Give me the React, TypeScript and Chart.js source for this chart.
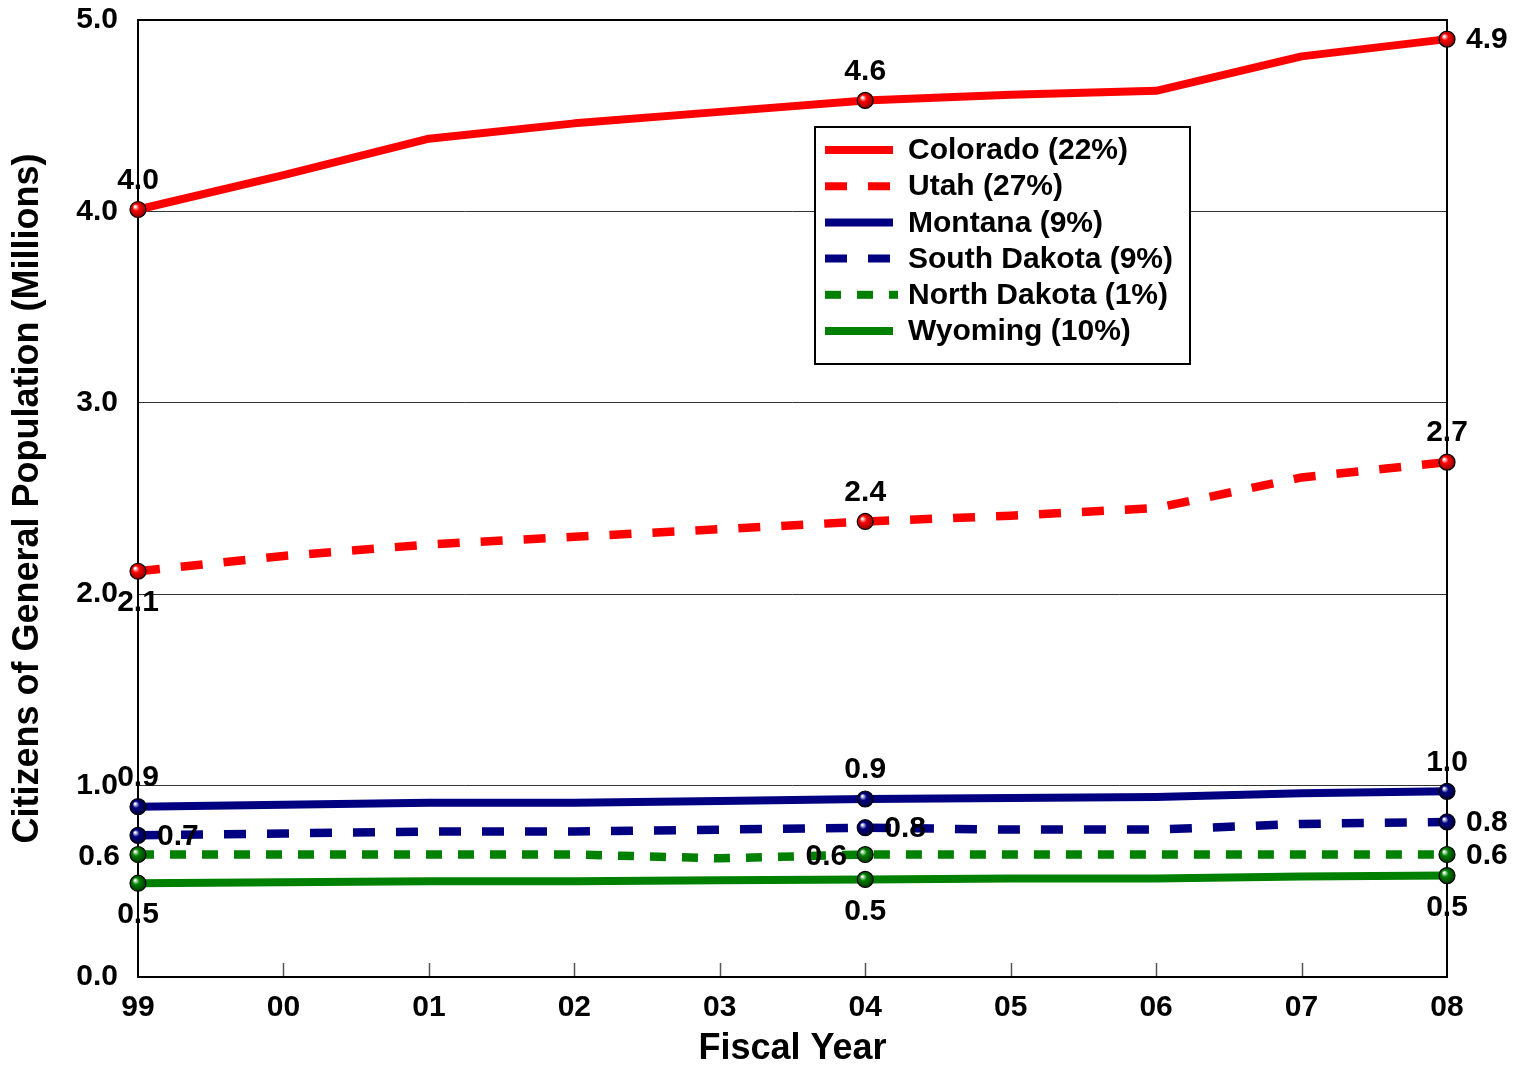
import React, { useEffect, useRef } from "react";
import { Chart, registerables } from "chart.js";

Chart.register(...registerables);

const years = ["99", "00", "01", "02", "03", "04", "05", "06", "07", "08"];
const colorado = [4.01, 4.19, 4.38, 4.46, 4.52, 4.58, 4.61, 4.63, 4.81, 4.9];
const utah = [2.12, 2.2, 2.26, 2.3, 2.34, 2.38, 2.41, 2.45, 2.61, 2.69];
const montana = [0.89, 0.9, 0.91, 0.91, 0.92, 0.93, 0.935, 0.94, 0.96, 0.97];
const southDakota = [0.74, 0.75, 0.76, 0.76, 0.77, 0.78, 0.77, 0.77, 0.8, 0.81];
const northDakota = [0.64, 0.64, 0.64, 0.64, 0.62, 0.64, 0.64, 0.64, 0.64, 0.64];
const wyoming = [0.49, 0.495, 0.5, 0.5, 0.505, 0.51, 0.515, 0.515, 0.525, 0.53];
const seriesNames = [
  "Colorado (22%)",
  "Utah (27%)",
  "Montana (9%)",
  "South Dakota (9%)",
  "North Dakota (1%)",
  "Wyoming (10%)",
];
const yTicks = [0, 1, 2, 3, 4, 5];
const labelledIndices = [0, 5, 9];

const RED = "#FF0000";
const NAVY = "#000080";
const GREEN = "#008000";
const FONT = "'Liberation Sans', Arial, sans-serif";

type Place = "above" | "below" | "left" | "right";
const seriesStyle: { color: string; dash: number[]; place: Place[] }[] = [
  { color: RED, dash: [], place: ["above", "above", "right"] },
  { color: RED, dash: [22, 21], place: ["below", "above", "above"] },
  { color: NAVY, dash: [], place: ["above", "above", "above"] },
  { color: NAVY, dash: [22, 21], place: ["right", "right", "right"] },
  { color: GREEN, dash: [16, 16], place: ["left", "left", "right"] },
  { color: GREEN, dash: [], place: ["below", "below", "below"] },
];
const seriesData = [colorado, utah, montana, southDakota, northDakota, wyoming];

function darken(hex: string) {
  if (hex === RED) return "#7a0000";
  if (hex === NAVY) return "#000030";
  return "#003000";
}

const overlayPlugin = {
  id: "overlay",
  beforeDatasetsDraw(chart: any) {
    const { ctx, chartArea } = chart;
    const xs = chart.scales.x;
    ctx.save();
    ctx.strokeStyle = "#555";
    ctx.lineWidth = 1.5;
    for (let i = 1; i < years.length - 1; i++) {
      const px = Math.round(xs.getPixelForValue(i)) + 0.5;
      ctx.beginPath();
      ctx.moveTo(px, chartArea.bottom);
      ctx.lineTo(px, chartArea.bottom - 14);
      ctx.stroke();
    }
    ctx.restore();
  },
  afterDatasetsDraw(chart: any) {
    const { ctx, chartArea } = chart;
    ctx.save();
    // frame
    ctx.strokeStyle = "#000";
    ctx.lineWidth = 2;
    ctx.strokeRect(chartArea.left, chartArea.top, chartArea.right - chartArea.left, chartArea.bottom - chartArea.top);

    // markers
    seriesData.forEach((_, di) => {
      const meta = chart.getDatasetMeta(di);
      const col = seriesStyle[di].color;
      labelledIndices.forEach((idx) => {
        const pt = meta.data[idx];
        const x = pt.x, y = pt.y;
        const g = ctx.createRadialGradient(x - 3, y - 3, 0.5, x, y, 9);
        g.addColorStop(0, "#ffffff");
        g.addColorStop(0.35, col);
        g.addColorStop(1, darken(col));
        ctx.beginPath();
        ctx.arc(x, y, 8, 0, Math.PI * 2);
        ctx.fillStyle = g;
        ctx.fill();
        ctx.lineWidth = 1.2;
        ctx.strokeStyle = "#000";
        ctx.stroke();
      });
    });

    // data labels
    ctx.font = `bold 30px ${FONT}`;
    ctx.fillStyle = "#000";
    seriesData.forEach((arr, di) => {
      const meta = chart.getDatasetMeta(di);
      labelledIndices.forEach((idx, k) => {
        const pt = meta.data[idx];
        const text = arr[idx].toFixed(1);
        const place = seriesStyle[di].place[k];
        let x = pt.x, y = pt.y;
        ctx.textBaseline = "middle";
        if (place === "above") { ctx.textAlign = "center"; y -= 29; }
        else if (place === "below") { ctx.textAlign = "center"; y += 32; }
        else if (place === "right") { ctx.textAlign = "left"; x += 19; y += 1; }
        else { ctx.textAlign = "right"; x -= 18; y += 2; }
        ctx.fillText(text, x, y);
      });
    });

    // legend
    const lx = chartArea.left + 677;
    const ly = chartArea.top + 107;
    const lw = 375, lh = 237;
    ctx.fillStyle = "#fff";
    ctx.fillRect(lx, ly, lw, lh);
    ctx.strokeStyle = "#000";
    ctx.lineWidth = 2;
    ctx.strokeRect(lx, ly, lw, lh);
    ctx.font = `bold 30px ${FONT}`;
    ctx.textAlign = "left";
    ctx.textBaseline = "middle";
    seriesNames.forEach((name, i) => {
      const ry = ly + 23 + i * 36.2;
      const st = seriesStyle[i];
      ctx.beginPath();
      ctx.strokeStyle = st.color;
      ctx.lineWidth = 8;
      ctx.lineCap = "butt";
      ctx.setLineDash(st.dash);
      ctx.moveTo(lx + 10, ry);
      ctx.lineTo(lx + (st.dash.length && st.dash[0] === 16 ? 83 : 78), ry);
      ctx.stroke();
      ctx.setLineDash([]);
      ctx.fillStyle = "#000";
      ctx.fillText(name, lx + 93, ry + 1);
    });
    ctx.restore();
  },
};

export default function App() {
  const ref = useRef<HTMLCanvasElement | null>(null);
  useEffect(() => {
    document.body.style.margin = "0";
    if (!ref.current) return;
    const chart = new Chart(ref.current, {
      type: "line",
      data: {
        labels: years,
        datasets: seriesData.map((d, i) => ({
          label: seriesNames[i],
          data: d,
          borderColor: seriesStyle[i].color,
          backgroundColor: seriesStyle[i].color,
          borderWidth: seriesStyle[i].dash.length ? 8.5 : 8,
          borderDash: seriesStyle[i].dash,
          borderJoinStyle: "round",
          borderCapStyle: "butt",
          pointRadius: 0,
          pointHoverRadius: 0,
          tension: 0,
          fill: false,
        })),
      },
      options: {
        animation: false,
        responsive: false,
        events: [],
        layout: { padding: { top: 20, right: 71, left: 0, bottom: 0 } },
        plugins: { legend: { display: false }, tooltip: { enabled: false } },
        scales: {
          x: {
            type: "category",
            offset: false,
            border: { display: false },
            grid: { display: false, drawTicks: false },
            ticks: {
              color: "#000",
              font: { family: FONT, size: 30, weight: "bold" },
              padding: 13,
              maxRotation: 0,
              autoSkip: false,
            },
            title: {
              display: true,
              text: "Fiscal Year",
              color: "#000",
              font: { family: FONT, size: 36, weight: "bold" },
              padding: { top: 0, bottom: 3 },
            },
            afterFit: (s: any) => { s.height = 97; s.paddingLeft = 0; s.paddingRight = 0; },
          },
          y: {
            min: 0,
            max: 5,
            border: { display: false },
            afterBuildTicks: (s: any) => { s.ticks = yTicks.map((v) => ({ value: v })); },
            grid: {
              color: "#333",
              lineWidth: 1,
              drawTicks: false,
            },
            ticks: {
              color: "#000",
              font: { family: FONT, size: 30, weight: "bold" },
              padding: 20,
              callback: (v: any) => Number(v).toFixed(1),
            },
            title: {
              display: true,
              text: "Citizens of General Population (Millions)",
              color: "#000",
              font: { family: FONT, size: 36, weight: "bold" },
              padding: { top: 6, bottom: 0 },
            },
            afterFit: (s: any) => { s.width = 138; s.paddingTop = 0; s.paddingBottom = 0; },
          },
        },
      },
      plugins: [overlayPlugin],
    } as any);
    return () => chart.destroy();
  }, []);
  return (
    <div style={{ width: 1518, height: 1074, background: "#fff" }}>
      <canvas ref={ref} width={1518} height={1074} style={{ display: "block" }} />
    </div>
  );
}
